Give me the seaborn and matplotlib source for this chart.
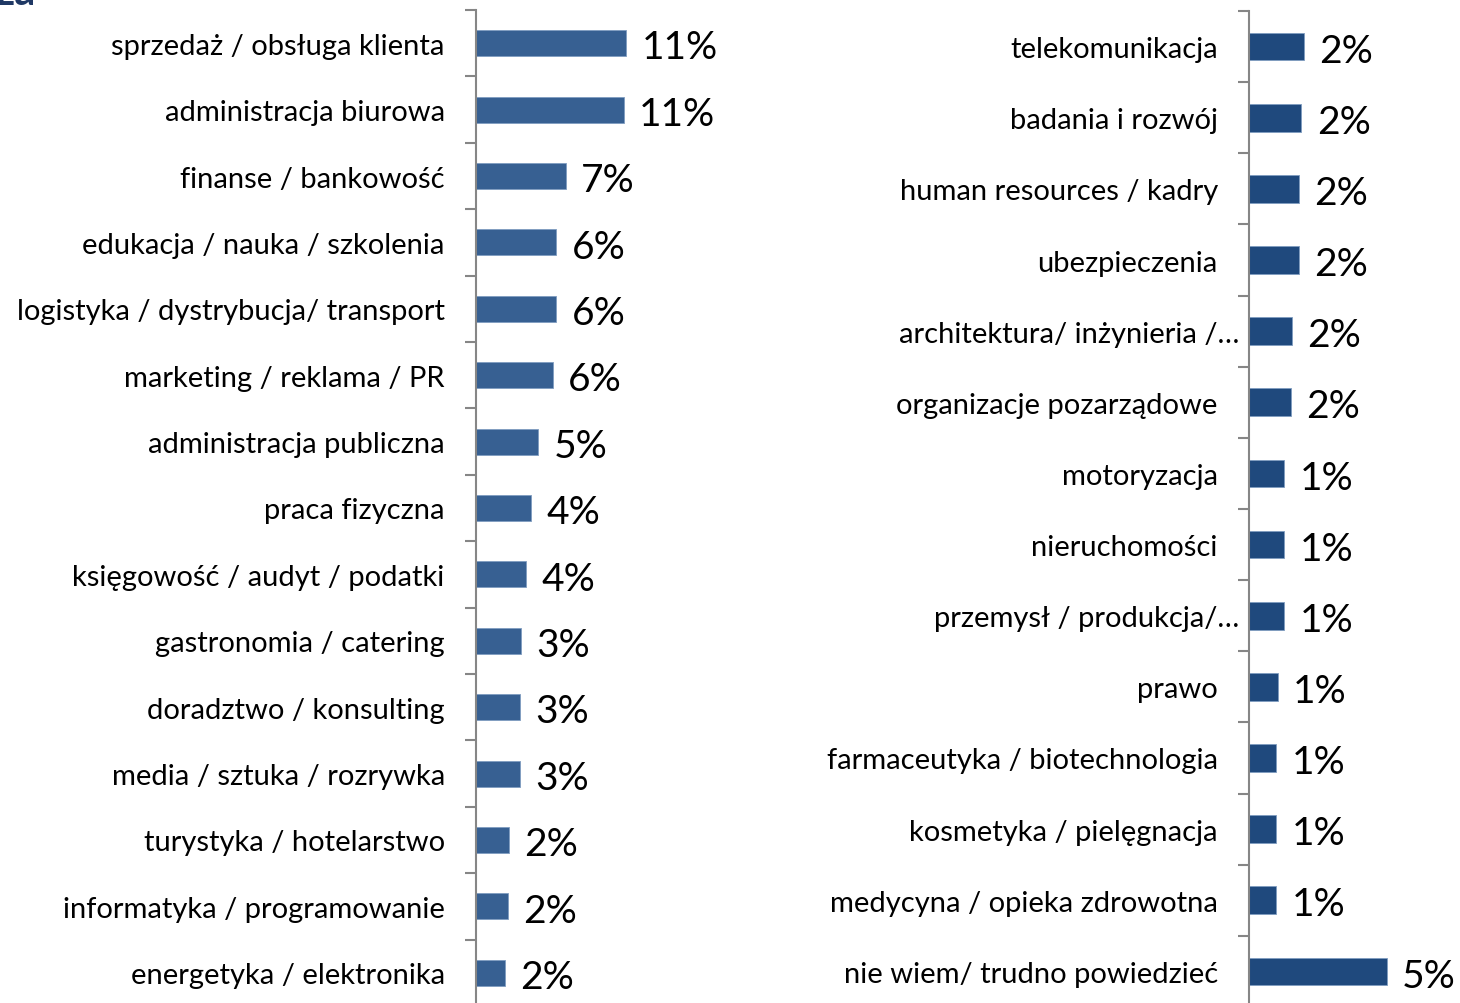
import numpy as np
import matplotlib.pyplot as plt
import seaborn as sns
from matplotlib.transforms import ScaledTranslation

sns.set_style("white")
plt.rcParams['font.family'] = ['Lato', 'DejaVu Sans']

left_cats = ["sprzedaż / obsługa klienta", "administracja biurowa", "finanse / bankowość",
             "edukacja / nauka / szkolenia", "logistyka / dystrybucja/ transport",
             "marketing / reklama / PR", "administracja publiczna", "praca fizyczna",
             "księgowość / audyt / podatki", "gastronomia / catering", "doradztwo / konsulting",
             "media / sztuka / rozrywka", "turystyka / hotelarstwo",
             "informatyka / programowanie", "energetyka / elektronika"]
left_vals = [11.0, 10.85, 6.6, 5.9, 5.9, 5.65, 4.55, 4.05, 3.7, 3.3, 3.2, 3.2, 2.4, 2.35, 2.1]

right_cats = ["telekomunikacja", "badania i rozwój", "human resources / kadry", "ubezpieczenia",
              "architektura/ inżynieria /…", "organizacje pozarządowe", "motoryzacja",
              "nieruchomości", "przemysł / produkcja/…", "prawo", "farmaceutyka / biotechnologia",
              "kosmetyka / pielęgnacja", "medycyna / opieka zdrowotna", "nie wiem/ trudno powiedzieć"]
right_vals = [2.0, 1.9, 1.8, 1.8, 1.57, 1.52, 1.27, 1.27, 1.27, 1.05, 0.98, 0.98, 0.98, 5.0]

fig = plt.figure(figsize=(14.6, 10.04), dpi=100)
W, H = 1460, 1004

def panel(x0, x1, top, bottom, cats, vals, color, px_per_unit):
    ax = fig.add_axes([x0 / W, 1 - bottom / H, (x1 - x0) / W, (bottom - top) / H])
    sns.barplot(x=vals, y=cats, color=color, width=0.39, saturation=1, ax=ax,
                edgecolor="#7f9cc0", linewidth=0.6)
    n = len(cats)
    ax.set_ylim(n - 0.5, -0.5)
    ax.set_xlim(0, (x1 - x0) / px_per_unit)
    ax.set_xlabel("")
    ax.set_ylabel("")
    ax.set_xticks([])
    for s in ["top", "right", "bottom"]:
        ax.spines[s].set_visible(False)
    ax.spines["left"].set_color("#868686")
    ax.spines["left"].set_linewidth(1.5)
    ax.set_yticks(np.arange(n))
    ax.set_yticklabels(cats, fontsize=21, color="black")
    ax.tick_params(axis="y", which="major", length=0, pad=22.5)
    ax.set_yticks(np.arange(n + 1) - 0.5, minor=True)
    ax.tick_params(axis="y", which="minor", length=8, width=1.5, color="#868686", left=True)
    for i, v in enumerate(vals):
        ax.annotate(f"{v:.0f}%", (v, i), xytext=(11, -3), textcoords="offset points",
                    ha="left", va="center", fontsize=28, color="black")
    return ax

axl = panel(476, 800, 11, 1007, left_cats, left_vals, "#376092", 13.64)
axr = panel(1249, 1460, 12, 1008, right_cats, right_vals, "#1f497d", 27.6)

# labels that Excel truncated sit closer to the axis
for lab in axr.get_yticklabels():
    if lab.get_text().endswith("…"):
        lab.set_transform(lab.get_transform() + ScaledTranslation(22 / 100, 0, fig.dpi_scale_trans))

fig.text(-0.003, 1 - 5 / H, "za", fontsize=30, fontweight="bold", color="#1f3864",
         ha="left", va="baseline")

plt.savefig("out.png", dpi=100)
